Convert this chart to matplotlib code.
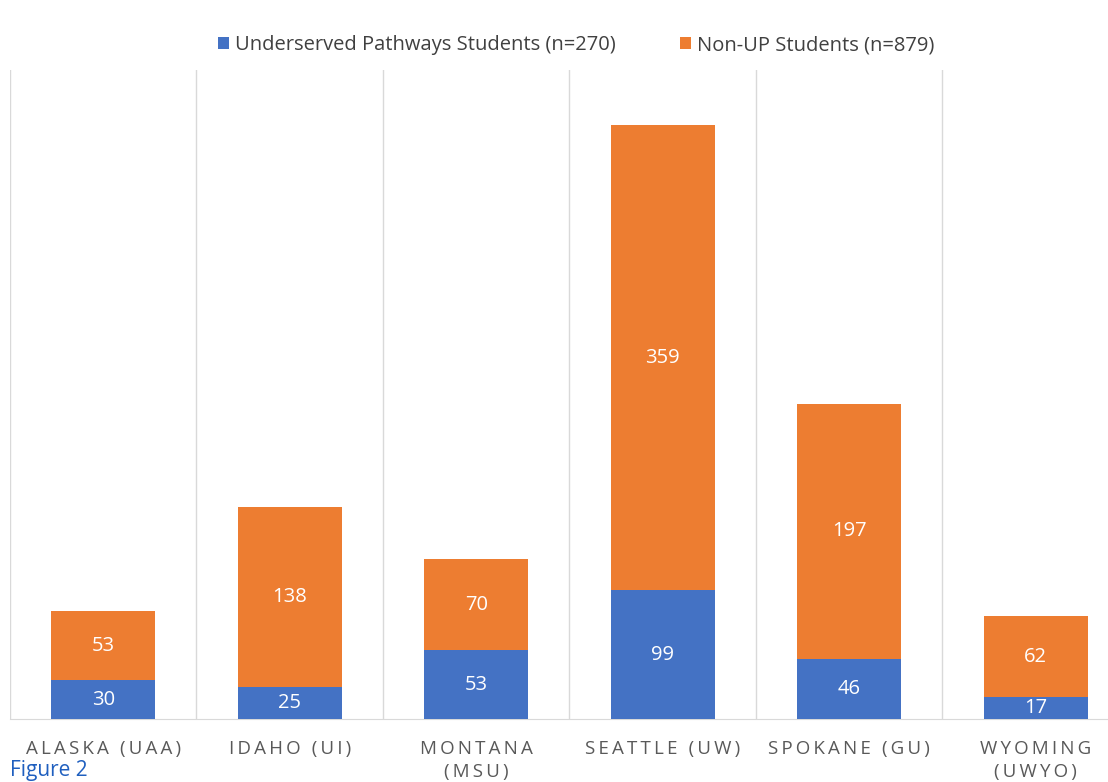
import numpy as np
import matplotlib.pyplot as plt

categories = ["ALASKA (UAA)", "IDAHO (UI)", "MONTANA\n(MSU)", "SEATTLE (UW)", "SPOKANE (GU)", "WYOMING\n(UWYO)"]
up_students = [30, 25, 53, 99, 46, 17]
non_up_students = [53, 138, 70, 359, 197, 62]
series_names = ["Underserved Pathways Students (n=270)", "Non-UP Students (n=879)"]

BLUE = "#4472C4"
ORANGE = "#ED7D31"


def spaced(label):
    # fake the letter spacing of the original axis labels
    return "\n".join("\u2009".join(line) for line in label.split("\n"))


plt.rcParams['font.family'] = ['Open Sans', 'DejaVu Sans']

fig = plt.figure(figsize=(11.08, 7.82), dpi=100)
ax = fig.add_axes([10 / 1108, 63 / 782, 1119 / 1108, 649 / 782])

x = np.arange(len(categories))
b1 = ax.bar(x, up_students, width=0.56, color=BLUE, label=series_names[0], zorder=3)
b2 = ax.bar(x, non_up_students, width=0.56, bottom=up_students, color=ORANGE,
            label=series_names[1], zorder=3)

for bars in (b1, b2):
    ax.bar_label(bars, label_type="center", color="white", fontsize=14.5)

ax.set_xlim(-0.5, len(categories) - 0.5)
ax.set_ylim(0, 500)
for xv in np.arange(-0.5, len(categories), 1.0):
    ax.axvline(xv, color="#D9D9D9", lw=1, zorder=1)

ax.set_yticks([])
ax.set_xticks(x)
ax.set_xticklabels([spaced(c) for c in categories], fontsize=13.5, color="#595959",
                   linespacing=1.35)
ax.tick_params(axis="x", length=0, pad=15)
for side in ("top", "left", "right"):
    ax.spines[side].set_visible(False)
ax.spines["bottom"].set_color("#D9D9D9")

fig.legend(handles=[b1, b2], loc="center", bbox_to_anchor=(576 / 1108, 1 - 45 / 782),
           ncol=2, frameon=False, fontsize=14.5, handlelength=0.55, handleheight=0.55,
           columnspacing=3.2, handletextpad=0.3, labelcolor="#404040")

fig.text(10 / 1108, 1 / 782, "Figure 2", color="#1F5FBF", fontsize=15, va="bottom")

fig.savefig("out.png", dpi=100)
